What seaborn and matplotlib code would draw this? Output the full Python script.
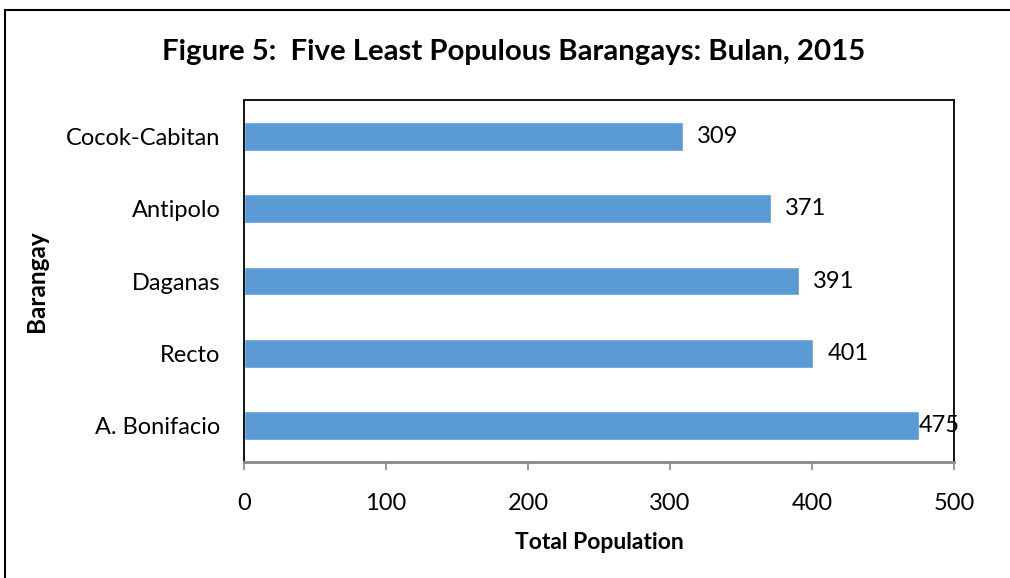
import matplotlib
matplotlib.use("Agg")
import matplotlib.pyplot as plt
import seaborn as sns
import pandas as pd
from matplotlib.patches import Rectangle

# Data
barangays = ['Cocok-Cabitan', 'Antipolo', 'Daganas', 'Recto', 'A. Bonifacio']
population = [309, 371, 391, 401, 475]
xticks = [0, 100, 200, 300, 400, 500]

df = pd.DataFrame({'Barangay': barangays, 'Total Population': population})

sns.set_theme(style='white')
plt.rcParams['font.family'] = ['Lato', 'DejaVu Sans']
plt.rcParams['text.color'] = 'black'
plt.rcParams['axes.labelcolor'] = 'black'
plt.rcParams['xtick.labelcolor'] = 'black'
plt.rcParams['ytick.labelcolor'] = 'black'

fig = plt.figure(figsize=(10.1, 5.78), dpi=100)
ax = fig.add_axes([244/1010, 1 - 462/578, (954 - 244)/1010, (462 - 100)/578])

sns.barplot(data=df, x='Total Population', y='Barangay', color='#5B9BD5',
            width=0.4, orient='h', ax=ax, saturation=1)

# value labels, the last one sits right at the bar end
for i, v in enumerate(population):
    ax.text(v + 10 if v < 450 else v, i, str(v), va='center', ha='left', fontsize=17)

ax.set_xlim(0, 500)
ax.set_xticks(xticks)
ax.set_xticklabels([str(t) for t in xticks], fontsize=17)
ax.tick_params(axis='y', labelsize=17, length=0, pad=17)
ax.tick_params(axis='x', direction='out', length=6, width=1.2, color='#888888', pad=16, bottom=True)
ax.set_xlabel('Total Population', fontsize=16.5, fontweight='bold', labelpad=13)
ax.set_ylabel('Barangay', fontsize=17.5, fontweight='bold', labelpad=13)

for side in ['top', 'right', 'left']:
    ax.spines[side].set_color('black')
    ax.spines[side].set_linewidth(1.3)
ax.spines['bottom'].set_color('#888888')
ax.spines['bottom'].set_linewidth(2)

fig.suptitle('Figure 5:  Five Least Populous Barangays: Bulan, 2015', fontsize=21.2,
             fontweight='bold', x=514/1010, y=1 - 52/578, va='center')

fig.patches.append(Rectangle((5/1010, -0.02), 1.0, 1 - 10/578 + 0.02,
                             transform=fig.transFigure, fill=False,
                             edgecolor='black', linewidth=1.5))

fig.savefig('out.png', dpi=100)
